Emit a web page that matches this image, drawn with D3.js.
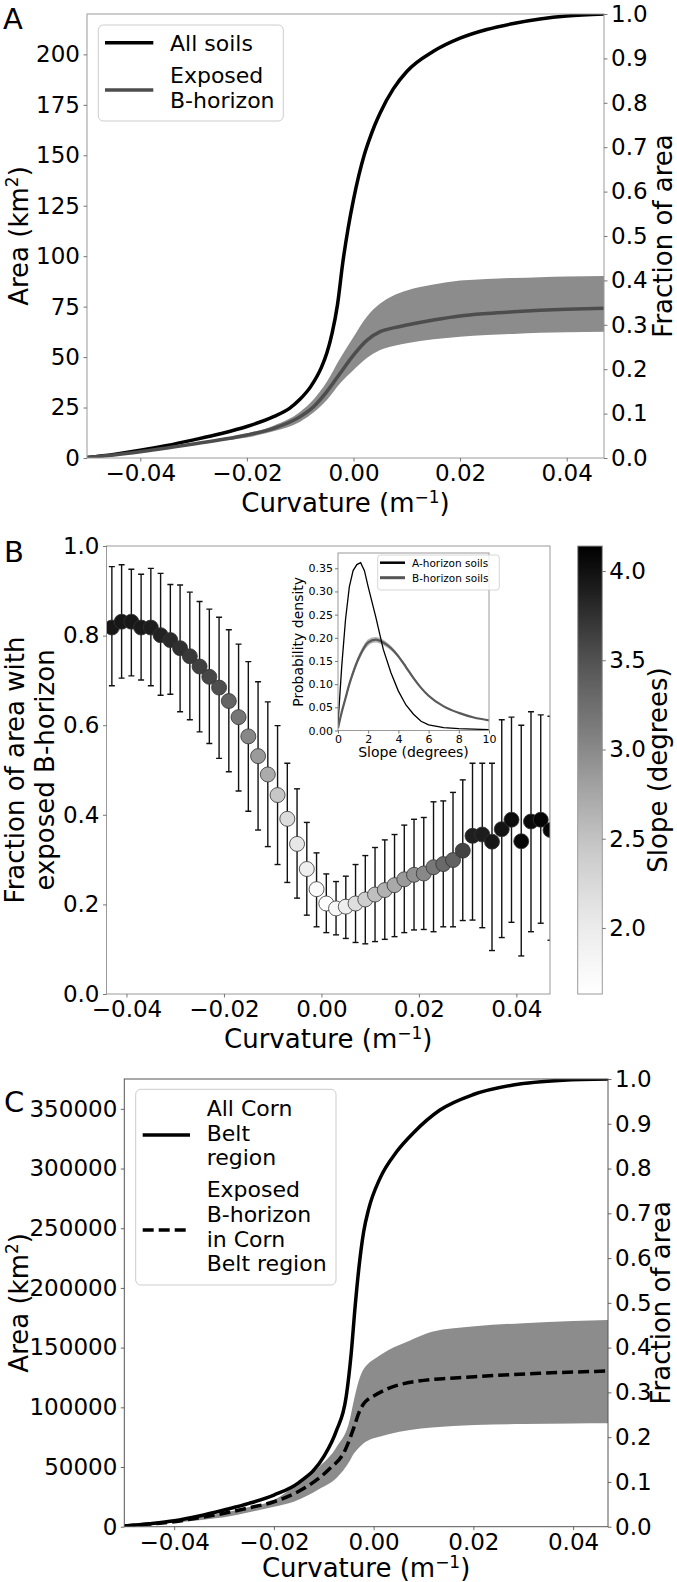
<!DOCTYPE html>
<html><head><meta charset="utf-8">
<script src="https://cdn.jsdelivr.net/npm/d3@7"></script>
<style>body{margin:0;background:#fff;} svg{display:block;} text{font-family:"DejaVu Sans",sans-serif;}</style>
</head><body>
<svg id="c" width="677" height="1582"></svg>
<script>
// ---------------- DATA ----------------
// Panel A
const aAllCurv = [-0.05,-0.045,-0.04,-0.035,-0.03,-0.025,-0.02,-0.015,-0.012,-0.01,-0.008,-0.006,-0.005,-0.004,-0.003,-0.002,-0.001,0,0.001,0.002,0.003,0.004,0.005,0.0075,0.01,0.015,0.02,0.025,0.03,0.035,0.04,0.047];
const aAllArea = [0.3,1.8,3.8,6.2,9.0,12.0,15.6,20.5,24.6,29.2,35.5,45,52,62,76,97,114,128,140,150,158,165,171,183,191.5,201.5,208,212.3,215.3,217.5,219,220];
const aBCurv  = [-0.05,-0.045,-0.04,-0.035,-0.03,-0.025,-0.02,-0.015,-0.01,-0.0075,-0.005,-0.0025,0,0.0025,0.005,0.0075,0.01,0.015,0.02,0.025,0.03,0.035,0.04,0.047];
const aBMean  = [0.3,1.5,3.1,5.0,6.9,9.0,11.4,14.7,20.5,25.4,32.9,42,51,58.3,62.6,64.5,65.9,68.4,70.4,71.6,72.5,73.2,73.7,74.2];
const aBUpper = [0.35,1.7,3.3,5.3,7.3,9.6,12.2,16.0,22.9,29,37.8,49.4,60,70,76.5,80.5,83,86,87.9,88.7,89.2,89.6,89.9,90.2];
const aBLower = [0.25,1.3,2.9,4.7,6.5,8.4,10.2,13.2,18,22.5,28.7,37,43.6,49.5,53.5,55.5,56.8,58.8,60.1,60.9,61.5,62,62.3,62.6];
const aYTicks = [0,25,50,75,100,125,150,175,200];
const xTicks = [-0.04,-0.02,0,0.02,0.04];
const fracTicks = [0,0.1,0.2,0.3,0.4,0.5,0.6,0.7,0.8,0.9,1.0];

// Panel B
const bCurv = [-0.043,-0.041,-0.039,-0.037,-0.035,-0.033,-0.031,-0.029,-0.027,-0.025,-0.023,-0.021,-0.019,-0.017,-0.015,-0.013,-0.011,-0.009,-0.007,-0.005,-0.003,-0.001,0.001,0.003,0.005,0.007,0.009,0.011,0.013,0.015,0.017,0.019,0.021,0.023,0.025,0.027,0.029,0.031,0.033,0.035,0.037,0.039,0.041,0.043,0.045,0.047];
const bFrac = [0.818,0.831,0.831,0.818,0.818,0.801,0.790,0.772,0.754,0.731,0.708,0.684,0.654,0.618,0.575,0.531,0.490,0.444,0.391,0.335,0.279,0.234,0.202,0.191,0.195,0.202,0.211,0.222,0.232,0.243,0.256,0.266,0.269,0.283,0.290,0.299,0.320,0.353,0.356,0.340,0.368,0.389,0.341,0.385,0.389,0.366];
const bUpper = [0.954,0.958,0.948,0.937,0.950,0.939,0.914,0.913,0.897,0.876,0.859,0.841,0.813,0.781,0.742,0.697,0.652,0.599,0.515,0.458,0.383,0.315,0.268,0.251,0.263,0.289,0.309,0.327,0.344,0.356,0.377,0.390,0.394,0.429,0.431,0.450,0.478,0.515,0.515,0.515,0.612,0.618,0.600,0.630,0.623,0.620];
const bLower = [0.688,0.705,0.710,0.701,0.688,0.667,0.669,0.630,0.612,0.585,0.559,0.526,0.496,0.453,0.408,0.366,0.329,0.289,0.249,0.214,0.176,0.150,0.137,0.132,0.124,0.115,0.112,0.117,0.122,0.128,0.137,0.143,0.144,0.139,0.150,0.150,0.164,0.165,0.148,0.097,0.126,0.160,0.085,0.139,0.158,0.120];
const bSlope = [3.95,3.95,3.94,3.92,3.9,3.86,3.8,3.75,3.69,3.64,3.59,3.52,3.34,3.17,3.02,2.86,2.71,2.46,2.21,2.06,1.93,1.73,1.63,1.8,1.96,2.18,2.38,2.53,2.66,2.73,2.86,2.93,3.01,3.16,3.29,3.36,3.61,3.88,3.9,3.95,3.98,4.04,4.08,4.05,4.1,4.08];
const bYTicks = [0,0.2,0.4,0.6,0.8,1.0];
const cbTicks = [2.0,2.5,3.0,3.5,4.0];

// Inset
const insSlope = [0,0.25,0.5,0.75,1.0,1.25,1.5,1.75,2.0,2.5,3.0,3.5,4.0,4.5,5.0,5.5,6.0,7.0,8.0,9.0,10.0];
const insA   = [0.015,0.14,0.24,0.31,0.345,0.358,0.362,0.345,0.31,0.245,0.175,0.125,0.085,0.055,0.035,0.02,0.012,0.006,0.004,0.003,0.002];
const insB   = [0.005,0.04,0.07,0.1,0.125,0.147,0.165,0.18,0.19,0.196,0.19,0.178,0.16,0.137,0.113,0.092,0.075,0.052,0.038,0.028,0.022];
const insBHi = [0.006,0.043,0.075,0.106,0.132,0.154,0.172,0.187,0.197,0.202,0.196,0.183,0.164,0.141,0.116,0.094,0.077,0.053,0.039,0.029,0.023];
const insBLo = [0.004,0.037,0.065,0.094,0.118,0.14,0.158,0.173,0.183,0.19,0.184,0.173,0.156,0.133,0.11,0.09,0.073,0.051,0.037,0.027,0.021];
const insXTicks = [0,2,4,6,8,10];
const insYTicks = [0,0.05,0.10,0.15,0.20,0.25,0.30,0.35];

// Panel C
const cAllCurv = [-0.05,-0.045,-0.04,-0.035,-0.03,-0.025,-0.02,-0.015,-0.01,-0.0075,-0.0055,-0.0045,-0.0037,-0.003,-0.002,-0.001,0.0013,0.0046,0.008,0.0133,0.02,0.028,0.038,0.047];
const cAllArea = [600,2500,5000,9000,14000,19500,26500,37000,58600,80000,109000,145000,185000,215000,247000,266000,292000,314000,330000,349000,362000,370000,374000,375000];
const cExpCurv = [-0.05,-0.045,-0.04,-0.035,-0.03,-0.025,-0.02,-0.0143,-0.0091,-0.0057,-0.0039,-0.003,-0.002,-0.001,0.0,0.003,0.0082,0.0203,0.0333,0.047];
const cExpMean = [500,2200,4200,7500,11200,15800,20900,31300,47500,64200,83800,95000,103000,107000,109500,115900,121500,125600,128500,130400];
const cBandCurv = [-0.05,-0.045,-0.04,-0.035,-0.03,-0.025,-0.02,-0.016,-0.0109,-0.0074,-0.0048,-0.004,-0.003,-0.002,-0.001,0.0,0.003,0.0073,0.0117,0.0203,0.03,0.04,0.047];
const cUpper = [550,2400,4500,8000,11700,16500,22400,33500,50250,67000,89400,105000,122000,132000,137000,140000,148000,156000,163300,168000,170500,172300,173100];
const cLower = [400,1800,3500,5500,7900,12000,16800,21000,31500,41000,55000,61000,66000,70000,72500,74000,77500,81000,83000,85200,86000,86400,86600];
const cYTicks = [0,50000,100000,150000,200000,250000,300000,350000];

// ---------------- DRAWING ----------------
const svg = d3.select("#c");
const defs = svg.append("defs");
const TICK_FS = 23, LABEL_FS = 26, LEG_FS = 22;

function clip(id, x0, y0, x1, y1) {
  defs.append("clipPath").attr("id", id).append("rect")
    .attr("x", x0).attr("y", y0).attr("width", x1 - x0).attr("height", y1 - y0);
}
function styleAxis(g, fs, col) {
  g.select(".domain").remove();
  g.selectAll("line").attr("stroke", col).attr("stroke-width", 0.8);
  g.selectAll("text").attr("font-size", fs).attr("fill", "#000").attr("font-family", "DejaVu Sans");
}
function frame(x0, y0, x1, y1, col) {
  svg.append("rect").attr("x", x0).attr("y", y0).attr("width", x1 - x0).attr("height", y1 - y0)
    .attr("fill", "none").attr("stroke", col).attr("stroke-width", 1);
}
function curvLabel(cx, y) {
  const t = svg.append("text").attr("x", cx).attr("y", y).attr("text-anchor", "middle").attr("font-size", LABEL_FS);
  t.append("tspan").text("Curvature (m");
  t.append("tspan").attr("dy", -9).attr("font-size", 17).text("\u22121");
  t.append("tspan").attr("dy", 9).text(")");
}
function rotLabel(x, cy, parts) {
  const t = svg.append("text").attr("transform", `translate(${x},${cy}) rotate(-90)`)
    .attr("text-anchor", "middle").attr("font-size", LABEL_FS);
  parts.forEach(p => {
    const s = t.append("tspan").text(p.t);
    if (p.sup) s.attr("font-size", 17).attr("dy", -10);
    if (p.after) s.attr("dy", 10);
  });
}
function panelLetter(txt, x, y) {
  svg.append("text").attr("x", x).attr("y", y).attr("font-size", 29).text(txt);
}
const fmt2 = d3.format(".2f"), fmt1 = d3.format(".1f");

// ====== Panel A ======
{
  const L = 87, R = 604, T = 14, B = 458;
  const x = d3.scaleLinear().domain([-0.05, 0.047]).range([L, R]);
  const y = d3.scaleLinear().domain([0, 220]).range([B, T]);
  const yr = d3.scaleLinear().domain([0, 1]).range([B, T]);
  clip("clipA", L, T, R, B);
  const g = svg.append("g").attr("clip-path", "url(#clipA)");
  const band = d3.area().x((d, i) => x(aBCurv[i])).y0((d, i) => y(aBLower[i])).y1((d, i) => y(aBUpper[i])).curve(d3.curveMonotoneX);
  g.append("path").attr("d", band(aBCurv)).attr("fill", "#8c8c8c");
  const lineAll = d3.line().x((d, i) => x(aAllCurv[i])).y(d => y(d)).curve(d3.curveMonotoneX);
  g.append("path").attr("d", lineAll(aAllArea)).attr("fill", "none").attr("stroke", "#000").attr("stroke-width", 3.5);
  const lineB = d3.line().x((d, i) => x(aBCurv[i])).y(d => y(d)).curve(d3.curveMonotoneX);
  g.append("path").attr("d", lineB(aBMean)).attr("fill", "none").attr("stroke", "#4d4d4d").attr("stroke-width", 3.5);
  frame(L, T, R, B, "#9a9a9a");
  styleAxis(svg.append("g").attr("transform", `translate(0,${B})`)
    .call(d3.axisBottom(x).tickValues(xTicks).tickFormat(fmt2).tickSize(3.5).tickPadding(3.5)), TICK_FS, "#555");
  styleAxis(svg.append("g").attr("transform", `translate(${L},0)`)
    .call(d3.axisLeft(y).tickValues(aYTicks).tickFormat(d3.format("d")).tickSize(3.5).tickPadding(3.5)), TICK_FS, "#555");
  styleAxis(svg.append("g").attr("transform", `translate(${R},0)`)
    .call(d3.axisRight(yr).tickValues(fracTicks).tickFormat(fmt1).tickSize(3.5).tickPadding(3.5)), TICK_FS, "#555");
  curvLabel((L + R) / 2, 512);
  rotLabel(28, (T + B) / 2, [{t: "Area (km"}, {t: "2", sup: true}, {t: ")", after: true}]);
  rotLabel(672, (T + B) / 2, [{t: "Fraction of area"}]);
  // legend
  svg.append("rect").attr("x", 98.3).attr("y", 25).attr("width", 185).attr("height", 96).attr("rx", 5)
    .attr("fill", "#fff").attr("fill-opacity", 0.8).attr("stroke", "#cccccc").attr("stroke-width", 1);
  svg.append("line").attr("x1", 105).attr("x2", 153.3).attr("y1", 42.7).attr("y2", 42.7).attr("stroke", "#000").attr("stroke-width", 3.5);
  svg.append("line").attr("x1", 105).attr("x2", 153.3).attr("y1", 90).attr("y2", 90).attr("stroke", "#4d4d4d").attr("stroke-width", 3.5);
  [["All soils", 51], ["Exposed", 82.7], ["B-horizon", 108.3]].forEach(([t, yy]) =>
    svg.append("text").attr("x", 170).attr("y", yy).attr("font-size", LEG_FS).text(t));
  panelLetter("A", 3, 29);
}

// ====== Panel B ======
{
  const L = 106.5, R = 550, T = 546, B = 994;
  const x = d3.scaleLinear().domain([-0.0441, 0.0469]).range([L, R]);
  const y = d3.scaleLinear().domain([0, 1]).range([B, T]);
  const cmin = 1.63, cmax = 4.14;
  const col = d3.scaleSequential(d3.interpolateGreys).domain([cmin, cmax]);
  clip("clipB", L, T, R, B);
  const g = svg.append("g").attr("clip-path", "url(#clipB)");
  bCurv.forEach((c, i) => {
    const xx = x(c);
    g.append("line").attr("x1", xx).attr("x2", xx).attr("y1", y(bLower[i])).attr("y2", y(bUpper[i])).attr("stroke", "#111").attr("stroke-width", 1.4);
    [bLower[i], bUpper[i]].forEach(v => g.append("line").attr("x1", xx - 3).attr("x2", xx + 3).attr("y1", y(v)).attr("y2", y(v)).attr("stroke", "#111").attr("stroke-width", 1.4));
  });
  g.selectAll("circle.pt").data(bCurv).enter().append("circle")
    .attr("cx", d => x(d)).attr("cy", (d, i) => y(bFrac[i])).attr("r", 7.5)
    .attr("fill", (d, i) => col(bSlope[i]))
    .attr("stroke", "#333").attr("stroke-width", 0.8);
  frame(L, T, R, B, "#9a9a9a");
  styleAxis(svg.append("g").attr("transform", `translate(0,${B})`)
    .call(d3.axisBottom(x).tickValues(xTicks).tickFormat(fmt2).tickSize(3.5).tickPadding(3.5)), TICK_FS, "#555");
  styleAxis(svg.append("g").attr("transform", `translate(${L},0)`)
    .call(d3.axisLeft(y).tickValues(bYTicks).tickFormat(fmt1).tickSize(3.5).tickPadding(3.5)), TICK_FS, "#555");
  curvLabel((L + R) / 2, 1048);
  rotLabel(24, (T + B) / 2, [{t: "Fraction of area with"}]);
  rotLabel(54, (T + B) / 2, [{t: "exposed B-horizon"}]);
  panelLetter("B", 4, 562);

  // inset
  const iL = 338, iR = 489, iT = 553, iB = 730.5;
  const ix = d3.scaleLinear().domain([0, 10]).range([iL, iR]);
  const iy = d3.scaleLinear().domain([0, 0.383]).range([iB, iT]);
  svg.append("rect").attr("x", iL).attr("y", iT).attr("width", iR - iL).attr("height", iB - iT).attr("fill", "#fff");
  clip("clipI", iL, iT, iR, iB);
  const gi = svg.append("g").attr("clip-path", "url(#clipI)");
  const ib = d3.area().x((d, i) => ix(insSlope[i])).y0((d, i) => iy(insBLo[i])).y1((d, i) => iy(insBHi[i])).curve(d3.curveMonotoneX);
  gi.append("path").attr("d", ib(insSlope)).attr("fill", "#b5b5b5");
  const iLineB = d3.line().x((d, i) => ix(insSlope[i])).y(d => iy(d)).curve(d3.curveMonotoneX);
  gi.append("path").attr("d", iLineB(insB)).attr("fill", "none").attr("stroke", "#5a5a5a").attr("stroke-width", 2.2);
  const iLineA = d3.line().x((d, i) => ix(insSlope[i])).y(d => iy(d)).curve(d3.curveLinear);
  gi.append("path").attr("d", iLineA(insA)).attr("fill", "none").attr("stroke", "#000").attr("stroke-width", 1.3);
  frame(iL, iT, iR, iB, "#9a9a9a");
  styleAxis(svg.append("g").attr("transform", `translate(0,${iB})`)
    .call(d3.axisBottom(ix).tickValues(insXTicks).tickFormat(d3.format("d")).tickSize(3).tickPadding(2)), 11, "#555");
  styleAxis(svg.append("g").attr("transform", `translate(${iL},0)`)
    .call(d3.axisLeft(iy).tickValues(insYTicks).tickFormat(fmt2).tickSize(3).tickPadding(2)), 11, "#555");
  svg.append("text").attr("x", (iL + iR) / 2).attr("y", 757).attr("text-anchor", "middle").attr("font-size", 14).text("Slope (degrees)");
  svg.append("text").attr("transform", `translate(303,${(iT + iB) / 2}) rotate(-90)`).attr("text-anchor", "middle").attr("font-size", 14).text("Probability density");
  // inset legend
  svg.append("rect").attr("x", 377.7).attr("y", 555).attr("width", 121.6).attr("height", 35).attr("rx", 3)
    .attr("fill", "#fff").attr("fill-opacity", 0.8).attr("stroke", "#cccccc").attr("stroke-width", 0.8);
  svg.append("line").attr("x1", 380).attr("x2", 405).attr("y1", 562.7).attr("y2", 562.7).attr("stroke", "#000").attr("stroke-width", 2.5);
  svg.append("line").attr("x1", 380).attr("x2", 405).attr("y1", 577.7).attr("y2", 577.7).attr("stroke", "#555").attr("stroke-width", 3);
  svg.append("text").attr("x", 412).attr("y", 566.5).attr("font-size", 10.5).text("A-horizon soils");
  svg.append("text").attr("x", 412).attr("y", 581.5).attr("font-size", 10.5).text("B-horizon soils");

  // colorbar
  const cL = 577.7, cR = 602.3;
  const cy = d3.scaleLinear().domain([cmin, cmax]).range([B, T]);
  const grad = defs.append("linearGradient").attr("id", "gradB").attr("x1", 0).attr("y1", 1).attr("x2", 0).attr("y2", 0);
  d3.range(0, 1.0001, 0.05).forEach(t => grad.append("stop").attr("offset", t).attr("stop-color", d3.interpolateGreys(t)));
  svg.append("rect").attr("x", cL).attr("y", T).attr("width", cR - cL).attr("height", B - T).attr("fill", "url(#gradB)")
    .attr("stroke", "#9a9a9a").attr("stroke-width", 1);
  styleAxis(svg.append("g").attr("transform", `translate(${cR},0)`)
    .call(d3.axisRight(cy).tickValues(cbTicks).tickFormat(fmt1).tickSize(3.5).tickPadding(3.5)), TICK_FS, "#555");
  rotLabel(667, (T + B) / 2, [{t: "Slope (degrees)"}]);
}

// ====== Panel C ======
{
  const L = 124.3, R = 608, T = 1079, B = 1526.7;
  const x = d3.scaleLinear().domain([-0.05, 0.047]).range([L, R]);
  const y = d3.scaleLinear().domain([0, 375000]).range([B, T]);
  const yr = d3.scaleLinear().domain([0, 1]).range([B, T]);
  clip("clipC", L, T, R, B);
  const g = svg.append("g").attr("clip-path", "url(#clipC)");
  const band = d3.area().x((d, i) => x(cBandCurv[i])).y0((d, i) => y(cLower[i])).y1((d, i) => y(cUpper[i])).curve(d3.curveMonotoneX);
  g.append("path").attr("d", band(cBandCurv)).attr("fill", "#8c8c8c");
  const lineAll = d3.line().x((d, i) => x(cAllCurv[i])).y(d => y(d)).curve(d3.curveMonotoneX);
  g.append("path").attr("d", lineAll(cAllArea)).attr("fill", "none").attr("stroke", "#000").attr("stroke-width", 3.5);
  const lineE = d3.line().x((d, i) => x(cExpCurv[i])).y(d => y(d)).curve(d3.curveMonotoneX);
  g.append("path").attr("d", lineE(cExpMean)).attr("fill", "none").attr("stroke", "#000").attr("stroke-width", 3.5).attr("stroke-dasharray", "11,5");
  frame(L, T, R, B, "#555");
  styleAxis(svg.append("g").attr("transform", `translate(0,${B})`)
    .call(d3.axisBottom(x).tickValues(xTicks).tickFormat(fmt2).tickSize(3.5).tickPadding(3)), TICK_FS, "#444");
  styleAxis(svg.append("g").attr("transform", `translate(${L},0)`)
    .call(d3.axisLeft(y).tickValues(cYTicks).tickFormat(d3.format("d")).tickSize(3.5).tickPadding(3.5)), TICK_FS, "#444");
  styleAxis(svg.append("g").attr("transform", `translate(${R},0)`)
    .call(d3.axisRight(yr).tickValues(fracTicks).tickFormat(fmt1).tickSize(3.5).tickPadding(3.5)), TICK_FS, "#444");
  curvLabel((L + R) / 2, 1577);
  rotLabel(28, (T + B) / 2, [{t: "Area (km"}, {t: "2", sup: true}, {t: ")", after: true}]);
  rotLabel(670, (T + B) / 2, [{t: "Fraction of area"}]);
  // legend
  svg.append("rect").attr("x", 135.7).attr("y", 1089.3).attr("width", 200.3).attr("height", 195.7).attr("rx", 5)
    .attr("fill", "#fff").attr("fill-opacity", 0.8).attr("stroke", "#cccccc").attr("stroke-width", 1);
  svg.append("line").attr("x1", 142.7).attr("x2", 190).attr("y1", 1135).attr("y2", 1135).attr("stroke", "#000").attr("stroke-width", 3.5);
  svg.append("line").attr("x1", 142.7).attr("x2", 190).attr("y1", 1230).attr("y2", 1230).attr("stroke", "#000").attr("stroke-width", 3.5).attr("stroke-dasharray", "11,5");
  [["All Corn", 1116], ["Belt", 1140.5], ["region", 1165], ["Exposed", 1197], ["B-horizon", 1222], ["in Corn", 1246.5], ["Belt region", 1271]]
    .forEach(([t, yy]) => svg.append("text").attr("x", 206.7).attr("y", yy).attr("font-size", LEG_FS).text(t));
  panelLetter("C", 4, 1112);
}
</script></body></html>
